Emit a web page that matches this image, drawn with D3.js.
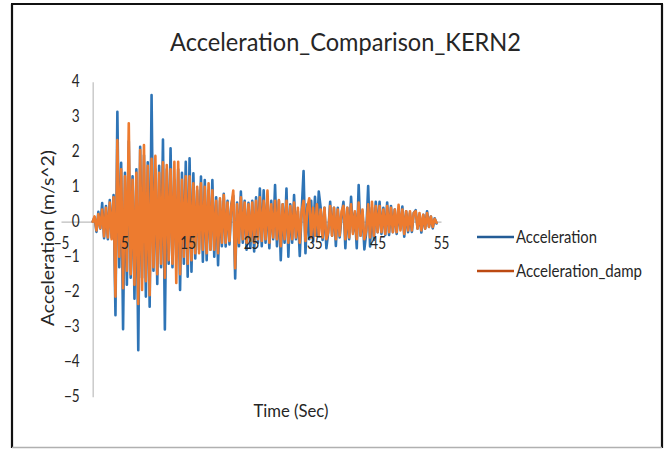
<!DOCTYPE html>
<html>
<head>
<meta charset="utf-8">
<script src="https://cdn.jsdelivr.net/npm/d3@7"></script>
<style>
  html, body { margin: 0; padding: 0; background: #ffffff; }
  text { font-family: Lato, "Open Sans", sans-serif; fill: #262626; }
</style>
</head>
<body>
<svg id="chart" width="669" height="450"></svg>
<script>
// Record sampling interval, seconds
const dt = 0.3;

// Ground acceleration record (m/s^2)
const acceleration = [
  0, 0.12, -0.29, 0.28, -0.2, 0.53, -0.47, 0.45, -0.5, 0.62,
  -0.45, 0.76, -2.67, 3.14, -1.3, 1.68, -3.07, 1.4, -1.8, 2.3,
  -1.6, 1.3, -2.2, 1.5, -3.67, 2.14, -1.6, 1.9, -2.14, 1.7,
  -2.43, 3.62, -1.4, 1.5, -1.78, 1.6, -1.3, 2.35, -3.08, 1.5,
  -1.2, 2.1, -1.3, 1.2, -1.0, 1.5, -1.95, 1.4, -1.2, 1.71,
  -1.57, 1.81, -1.43, 1.38, -1.05, 0.9, -0.8, 1.29, -1.14, 1.19,
  -1.1, 0.9, -0.8, 1.19, -1.0, 0.7, -1.24, 0.6, -0.7, 0.8,
  -0.71, 0.6, -0.65, 0.5, 0.75, -1.62, 0.55, -0.7, 0.86, -0.6,
  0.6, -0.8, 0.54, -0.75, 0.6, -0.85, 0.7, -0.6, 0.95, -0.7,
  0.9, -0.6, 0.7, -0.76, 0.6, -0.5, 1.05, -0.7, 0.6, -1.1,
  0.5, -0.6, 0.95, -1.0, 0.5, -0.6, 0.76, -0.5, 0.3, -0.98,
  0.3, 1.45, -0.9, 0.5, -0.5, 0.6, -0.57, 0.71, -0.4, 0.86,
  0.4, -0.52, 0.4, -0.76, -0.3, 0.57, -0.4, 0.4, -0.69, 0.4,
  -0.45, 0.15, 0.57, -0.76, 0.4, -0.5, 0.71, -0.3, 0.25, -0.76,
  1.05, -0.4, 0.3, -0.79, -0.3, 1.02, -0.71, 0.4, -0.52, 0.57,
  -0.3, 0.57, -0.35, 0.4, -0.38, 0.55, -0.38, 0.45, -0.3, 0.35,
  -0.35, 0.3, -0.2, 0.43, -0.43, 0.3, -0.3, 0.25, -0.29, 0.25,
  0.33, -0.2, 0.2, -0.31, 0.2, -0.2, 0.3, -0.15, 0.15, -0.19, 0.1, -0.05
];

// Damped response acceleration (m/s^2)
const accelerationDamp = [
  0, 0.15, -0.25, 0.22, -0.18, 0.35, -0.42, 0.4, -0.45, 0.55,
  -0.5, 0.7, -2.14, 2.33, -1.0, 1.5, -1.9, 1.3, -1.4, 2.81,
  -1.5, 1.2, -1.8, 1.4, -2.35, 2.05, -1.95, 2.19, -1.7, 1.6,
  -2.1, 1.8, -1.3, 1.88, -1.5, 1.4, -1.2, 1.7, -1.6, 1.62,
  -1.1, 1.5, -1.2, 1.71, -1.75, 1.71, -1.5, 1.2, -1.0, 1.3,
  -1.2, 1.3, -1.1, 1.1, -0.9, 1.0, -0.9, 1.1, -0.8, 1.0,
  -0.9, 1.1, -0.8, 0.9, -0.8, 0.6, -0.9, 0.67, -0.6, 0.76,
  -0.6, 0.55, -0.55, 0.45, 0.89, -1.33, 0.5, -0.6, 0.7, -0.5,
  0.55, -0.6, 0.5, -0.55, 0.55, -0.6, 0.6, -0.5, 0.7, -0.55,
  0.6, -0.5, 0.89, -0.6, 0.5, -0.45, 0.6, -0.5, 0.62, -0.7,
  0.5, -0.5, 0.6, -0.6, 0.45, -0.5, 0.55, -0.45, 0.4, -0.6,
  0.3, 0.6, -0.55, 0.4, 0.67, -0.45, 0.4, -0.4, 0.5, -0.4,
  0.35, -0.45, 0.4, -0.5, -0.3, 0.45, -0.4, 0.4, -0.5, 0.35,
  -0.4, 0.3, 0.45, -0.5, 0.4, -0.45, 0.5, -0.35, 0.3, -0.5,
  0.55, -0.4, 0.35, -0.5, -0.25, 0.5, -0.45, 0.57, -0.4, 0.45,
  -0.3, 0.45, -0.3, 0.35, -0.35, 0.45, -0.3, 0.4, -0.3, 0.35,
  -0.3, 0.48, -0.25, 0.35, -0.35, 0.3, -0.25, 0.3, -0.25, 0.25,
  0.3, -0.2, 0.25, -0.25, 0.2, -0.2, 0.25, -0.15, 0.15, -0.15, 0.08, -0.03
];

const xTicks = [-5, 5, 15, 25, 35, 45, 55];
const yTicks = [4, 3, 2, 1, 0, -1, -2, -3, -4, -5];
const seriesNames = ["Acceleration", "Acceleration_damp"];
const seriesColors = ["#2E74B6", "#ED7B2F"];
const legendColors = ["#235C96", "#BC4A12"];

const svg = d3.select("#chart");

// Narrow text so it reads like a condensed face
function squeeze(sel, factor) {
  sel.each(function () {
    const w = this.getComputedTextLength();
    this.setAttribute("textLength", (w * factor).toFixed(1));
    this.setAttribute("lengthAdjust", "spacingAndGlyphs");
  });
}
function fitWidth(sel, width) {
  sel.attr("textLength", width).attr("lengthAdjust", "spacingAndGlyphs");
}

// Chart frame
const frame = svg.append("g");
frame.append("line").attr("x1", 12).attr("y1", 4).attr("x2", 12).attr("y2", 448)
  .attr("stroke", "#111").attr("stroke-width", 2.2);
frame.append("line").attr("x1", 11).attr("y1", 4).attr("x2", 663).attr("y2", 4)
  .attr("stroke", "#111").attr("stroke-width", 2.2);
frame.append("line").attr("x1", 662).attr("y1", 4).attr("x2", 662).attr("y2", 448)
  .attr("stroke", "#111").attr("stroke-width", 2.2);
frame.append("line").attr("x1", 12).attr("y1", 447.5).attr("x2", 662).attr("y2", 447.5)
  .attr("stroke", "#b0b0b0").attr("stroke-width", 1.5);

// Scales
const x = d3.scaleLinear().domain([-5, 55]).range([61, 441]);
const y = d3.scaleLinear().domain([-5, 4]).range([396.7, 81.7]);

// Horizontal axis crosses at zero acceleration, vertical axis at t = 0
const xAxisGen = d3.axisBottom(x).tickValues(xTicks).tickFormat(d3.format("d"))
  .tickSize(0).tickPadding(15.5);
const yAxisGen = d3.axisLeft(y).tickValues(yTicks).tickFormat(d3.format("d"))
  .tickSize(0).tickPadding(13);

// Axis lines sit beneath the traces
function axisLines(gen, transform) {
  const g = svg.append("g").attr("transform", transform).call(gen);
  g.selectAll(".tick").remove();
  g.select(".domain").attr("stroke", "#bdbdbd").attr("stroke-width", 1.2);
}
axisLines(xAxisGen, `translate(0,${y(0)})`);
axisLines(yAxisGen, `translate(${x(0)},0)`);

// Series lines
const series = [acceleration, accelerationDamp];
const line = d3.line()
  .x((d, i) => x(i * dt))
  .y(d => y(d));

svg.append("g").selectAll("path")
  .data(series)
  .join("path")
  .attr("d", d => line(d))
  .attr("fill", "none")
  .attr("stroke", (d, i) => seriesColors[i])
  .attr("stroke-width", 2.6)
  .attr("stroke-linejoin", "round")
  .attr("stroke-linecap", "round");

// Tick labels drawn over the traces
function axisLabels(gen, transform) {
  const g = svg.append("g").attr("transform", transform).call(gen);
  g.select(".domain").remove();
  g.selectAll("text").attr("font-size", 16.5).attr("fill", "#262626")
    .style("font-family", "Lato, 'Open Sans', sans-serif");
  squeeze(g.selectAll("text"), 0.82);
}
axisLabels(xAxisGen, `translate(0,${y(0)})`);
axisLabels(yAxisGen, `translate(${x(0)},0)`);

// Title
const title = svg.append("text")
  .attr("x", 345.5).attr("y", 51)
  .attr("text-anchor", "middle")
  .attr("font-size", 25)
  .text("Acceleration_Comparison_KERN2");
fitWidth(title, 351);

// Axis titles
const yTitle = svg.append("text")
  .attr("transform", "translate(54,238) rotate(-90)")
  .attr("text-anchor", "middle")
  .attr("font-size", 16.5)
  .text("Acceleration (m/s^2)");
fitWidth(yTitle, 176);

const xTitle = svg.append("text")
  .attr("x", 291).attr("y", 417)
  .attr("text-anchor", "middle")
  .attr("font-size", 16.5)
  .text("Time (Sec)");
fitWidth(xTitle, 75);

// Legend
const legend = svg.append("g");
const legendY = [237, 271];
const legendWidths = [81, 126];
seriesNames.forEach((name, i) => {
  legend.append("line")
    .attr("x1", 477).attr("x2", 514)
    .attr("y1", legendY[i]).attr("y2", legendY[i])
    .attr("stroke", legendColors[i]).attr("stroke-width", 2.6);
  const t = legend.append("text")
    .attr("x", 516).attr("y", legendY[i] + 6)
    .attr("font-size", 16.5)
    .text(name);
  fitWidth(t, legendWidths[i]);
});
</script>
</body>
</html>
